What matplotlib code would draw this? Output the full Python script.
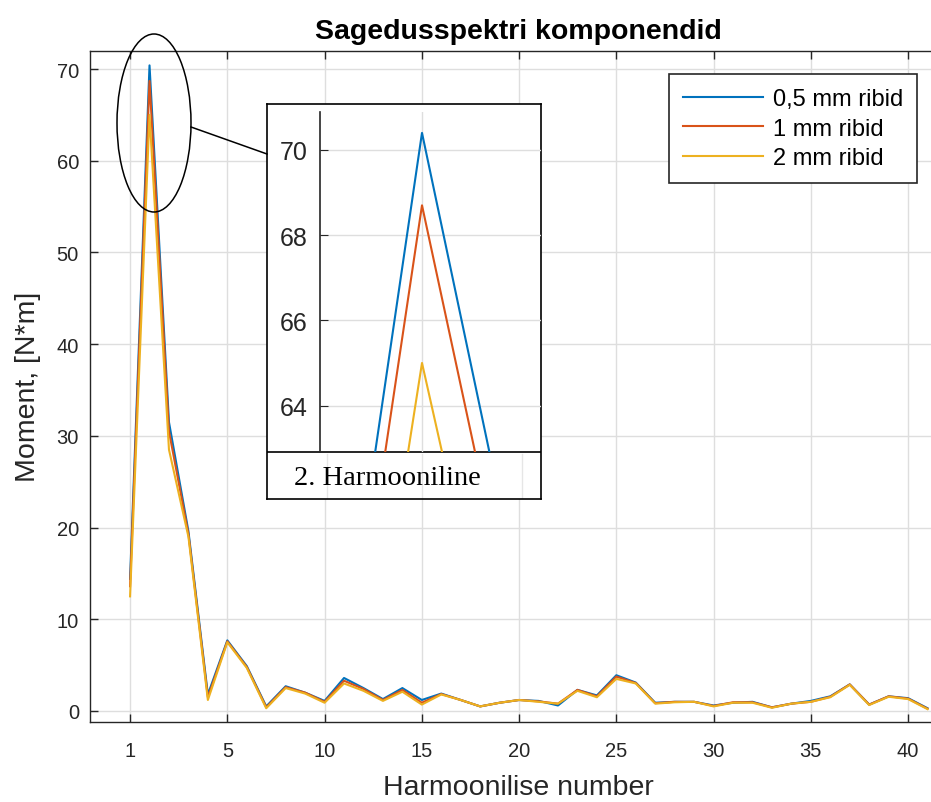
import numpy as np
import matplotlib.pyplot as plt
from matplotlib.patches import Ellipse
from matplotlib.lines import Line2D

plt.rcParams['font.family'] = ['Liberation Sans', 'DejaVu Sans']

########### Data ###########

harm = np.arange(42)  # plotted positions, tick at 0 is labelled "1"
xtick_pos = [0, 5, 10, 15, 20, 25, 30, 35, 40]
xtick_lab = ['1', '5', '10', '15', '20', '25', '30', '35', '40']

m_05 = [14.4, 70.4, 31.5, 19.6, 1.8, 7.7, 4.9, 0.5, 2.7, 2.0, 1.1, 3.6, 2.5, 1.3,
        2.5, 1.2, 1.9, 1.2, 0.5, 0.9, 1.2, 1.1, 0.6, 2.3, 1.7, 3.9, 3.1, 0.9, 1.0,
        1.0, 0.6, 0.9, 1.0, 0.4, 0.8, 1.1, 1.6, 2.9, 0.7, 1.6, 1.4, 0.3]
m_1 = [13.6, 68.7, 30.5, 19.3, 1.5, 7.6, 4.8, 0.4, 2.6, 2.0, 1.0, 3.3, 2.4, 1.2,
       2.3, 0.9, 1.85, 1.2, 0.5, 0.9, 1.2, 1.05, 0.8, 2.3, 1.6, 3.75, 3.05, 0.85, 1.0,
       1.0, 0.55, 0.95, 0.95, 0.4, 0.8, 1.0, 1.55, 2.9, 0.7, 1.6, 1.35, 0.25]
m_2 = [12.5, 65.0, 28.5, 19.0, 1.2, 7.5, 4.7, 0.3, 2.5, 1.9, 0.9, 3.0, 2.2, 1.1,
       2.1, 0.7, 1.8, 1.2, 0.5, 0.9, 1.2, 1.0, 0.8, 2.2, 1.5, 3.5, 3.0, 0.8, 0.95,
       1.0, 0.5, 0.9, 0.9, 0.35, 0.8, 1.0, 1.5, 2.85, 0.65, 1.55, 1.3, 0.2]
labels = ['0,5 mm ribid', '1 mm ribid', '2 mm ribid']
colors = ['#0072BD', '#D95319', '#EDB120']

W, H = 931, 803
txt = '#262626'
gridc = '#dedede'

def fx(px):
    return px / W

def fy(py):
    return 1 - py / H

fig = plt.figure(figsize=(W / 100, H / 100), dpi=100)

################# Main axes #################

ax = fig.add_axes([fx(90), fy(723), fx(947) - fx(90), fy(51.7) - fy(723)])
for y, c, l in zip([m_05, m_1, m_2], colors, labels):
    ax.plot(harm, y, color=c, lw=1.5, label=l)

ax.set_xlim(-2.06, 42)
ax.set_ylim(-1.2, 72.0)
ax.set_xticks(xtick_pos)
ax.set_xticklabels(xtick_lab)
ax.set_yticks(np.arange(0, 71, 10))
ax.grid(True, color=gridc, lw=1)
ax.set_axisbelow(True)
ax.tick_params(direction='in', top=True, right=True, length=6, width=1,
               labelsize=14.5, colors=txt, labelcolor=txt)
ax.tick_params(axis='x', pad=14)
ax.tick_params(axis='y', pad=8)
for s in ax.spines.values():
    s.set_color('#262626')
    s.set_linewidth(1)

ax.set_title('Sagedusspektri komponendid', fontsize=20.5, fontweight='bold',
             color='black', pad=9)
ax.set_xlabel('Harmoonilise number', fontsize=20.5, color=txt, labelpad=10)
ax.set_ylabel('Moment, [N*m]', fontsize=20.5, color=txt, labelpad=11)

leg = ax.legend(loc='upper right', bbox_to_anchor=(fx(917), fy(75)),
                bbox_transform=fig.transFigure, fontsize=17, handlelength=3.4,
                fancybox=False, framealpha=1, edgecolor='#262626',
                borderpad=0.6, labelspacing=0.32, handletextpad=0.4,
                borderaxespad=0)
leg.get_frame().set_linewidth(1.2)
for t in leg.get_texts():
    t.set_color('black')

############ Zoom marker ############

ell = Ellipse((fx(154), fy(124)), fx(74), 178 / H, transform=fig.transFigure,
              fill=False, edgecolor='black', lw=1.1)
fig.patches.append(ell)
fig.lines.append(Line2D([fx(191), fx(267)], [fy(128), fy(155)],
                        transform=fig.transFigure, color='black', lw=1.1))

############ Inset ############

box = fig.add_axes([fx(267), fy(500), fx(541) - fx(267), fy(105) - fy(500)])
box.set_xticks([])
box.set_yticks([])
box.set_facecolor('white')
for s in box.spines.values():
    s.set_color('black')
    s.set_linewidth(1.2)
box.set_xlim(267, 541)
box.set_ylim(500, 105)
box.axhline(453, color='black', lw=1.2)
for gx in [327, 422, 522]:
    box.plot([gx, gx], [455, 500], color='#e6e6e6', lw=1, zorder=0)
box.text(294, 479, '2. Harmooniline', family=['Liberation Serif', 'DejaVu Serif'],
         fontsize=20.5, va='center', ha='left', color='black')

ins = fig.add_axes([fx(320), fy(453), fx(541) - fx(320), fy(113) - fy(453)])
ins.patch.set_alpha(0)
for y, c in zip([m_05, m_1, m_2], colors):
    ins.plot(harm, y, color=c, lw=1.5)
ins.set_xlim(1 - 102 / 350, 1 + 119 / 350)
ins.set_ylim(62.91, 70.89)
ins.set_yticks([64, 66, 68, 70])
ins.set_xticks([1])
ins.set_xticklabels([])
ins.grid(True, color=gridc, lw=1)
ins.tick_params(axis='y', direction='in', length=6, labelsize=18, colors=txt,
                labelcolor=txt, pad=9)
ins.tick_params(axis='x', length=0)
for k in ['top', 'right', 'bottom']:
    ins.spines[k].set_visible(False)
ins.spines['left'].set_color('#262626')
ins.spines['left'].set_linewidth(1.2)

fig.savefig('out.png', dpi=100)
